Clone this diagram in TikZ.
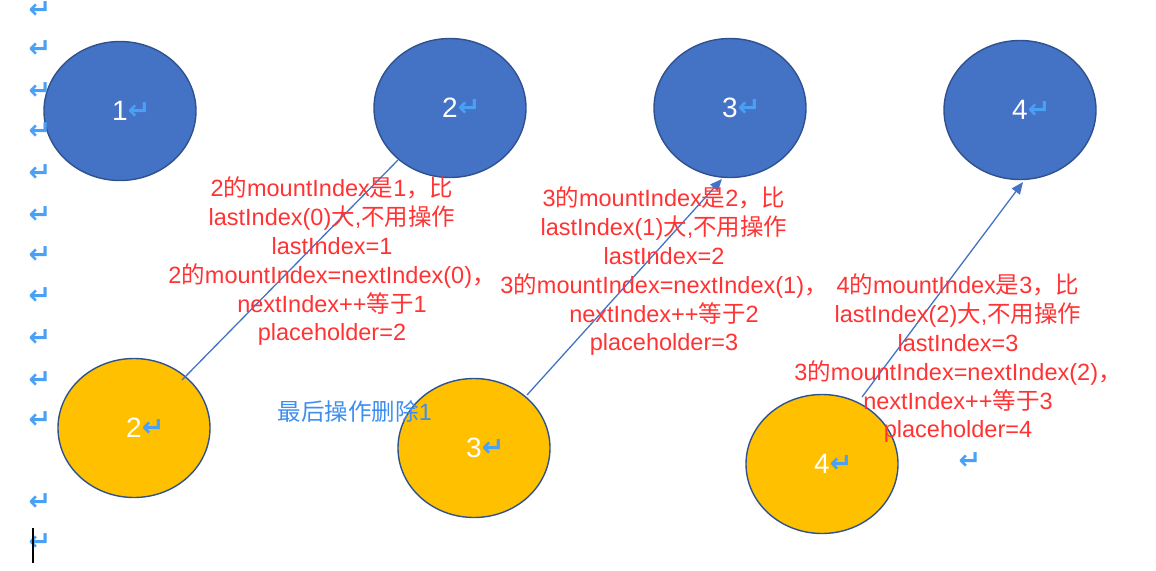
\documentclass[tikz,border=0pt]{standalone}
\usepackage{fontspec}
\setmainfont{Liberation Sans}
\newfontfamily\cjk{Noto Sans CJK SC}
\newfontfamily\dvs{DejaVu Sans}
\usetikzlibrary{shapes.geometric,arrows.meta}
\definecolor{nodeblue}{HTML}{4472C4}
\definecolor{edgeblue}{HTML}{2F528F}
\definecolor{nodeyellow}{HTML}{FFC000}
\definecolor{txtred}{HTML}{FF3333}
\definecolor{retblue}{RGB}{74,160,245}
\definecolor{notblue}{RGB}{62,142,240}
\newcommand\zhs[1]{{\cjk #1}}
\newcommand\retmk{{\dvs\bfseries\fontsize{27}{27}\selectfont\color{retblue}↵}}
\tikzset{
  circ/.style={ellipse, draw=edgeblue, line width=1.4pt, minimum width=152pt, minimum height=139pt, inner sep=0pt, text=white, font=\fontsize{28}{30}\selectfont},
  bluecirc/.style={circ, fill=nodeblue},
  yellowcirc/.style={circ, fill=nodeyellow},
  link/.style={draw=nodeblue, line width=1.3pt},
  arrowlink/.style={link, -{Triangle[length=12pt,width=10pt]}},
  redtxt/.style={align=center, text=txtred, inner sep=0pt, font=\fontsize{23.5}{28.8}\selectfont},
  bluetxt/.style={text=notblue, inner sep=0pt, font=\fontsize{23.5}{28.8}\selectfont},
  retnode/.style={inner sep=0pt}
}
\begin{document}
\begin{tikzpicture}[x=1pt,y=-1pt]
\useasboundingbox (0,0) rectangle (1156,570);
% ellipses
\node[bluecirc] (b1) at (120,111) {1\rlap{\raisebox{1pt}{\retmk}}};
\node[bluecirc] (b2) at (450,108) {2\rlap{\raisebox{1pt}{\retmk}}};
\node[bluecirc] (b3) at (730,108) {3\rlap{\raisebox{1pt}{\retmk}}};
\node[bluecirc] (b4) at (1020,110) {4\rlap{\raisebox{1pt}{\retmk}}};
\node[yellowcirc] (y2) at (134,428) {2\rlap{\raisebox{1pt}{\retmk}}};
\node[yellowcirc] (y3) at (474,448) {3\rlap{\raisebox{1pt}{\retmk}}};
\node[yellowcirc] (y4) at (822,464) {4\rlap{\raisebox{1pt}{\retmk}}};
% connector ends
\coordinate (s1) at (182,380);
\coordinate (e1) at (398,160);
\coordinate (s2) at (527,395);
\coordinate (e2) at (722,179);
\coordinate (s3) at (862,397);
\coordinate (e3) at (1023,182);
\draw[link] (s1) -- (e1);
\draw[arrowlink] (s2) -- (e2);
\draw[arrowlink] (s3) -- (e3);
% texts
\node[redtxt] (t1) at (332,261.5) {2\zhs{的}mountIndex\zhs{是}1\zhs{，比}\\lastIndex(0)\zhs{大},\zhs{不用操作}\\lastIndex=1\\2\zhs{的}mountIndex=nextIndex(0)\zhs{，}\\nextIndex++\zhs{等于}1\\placeholder=2};
\node[redtxt] (t2) at (664,271.5) {3\zhs{的}mountIndex\zhs{是}2\zhs{，比}\\lastIndex(1)\zhs{大},\zhs{不用操作}\\lastIndex=2\\3\zhs{的}mountIndex=nextIndex(1)\zhs{，}\\nextIndex++\zhs{等于}2\\placeholder=3};
\node[redtxt] (t3) at (958,358.5) {4\zhs{的}mountIndex\zhs{是}3\zhs{，比}\\lastIndex(2)\zhs{大},\zhs{不用操作}\\lastIndex=3\\3\zhs{的}mountIndex=nextIndex(2)\zhs{，}\\nextIndex++\zhs{等于}3\\placeholder=4};
\node[bluetxt] (note) at (355,412) {\zhs{最后操作删除}1};
\node[retnode] (r3) at (970,461) {\retmk};
% left margin paragraph marks
\foreach \yy [count=\i] in {10,49,91,131,173,215,255,296,338,380,420,502,542}
  \node[retnode] (m\i) at (40,\yy) {\retmk};
% text cursor
\coordinate (c1) at (33,528);
\coordinate (c2) at (33,563);
\draw[line width=1.8pt, black] (c1) -- (c2);
\end{tikzpicture}
\end{document}
